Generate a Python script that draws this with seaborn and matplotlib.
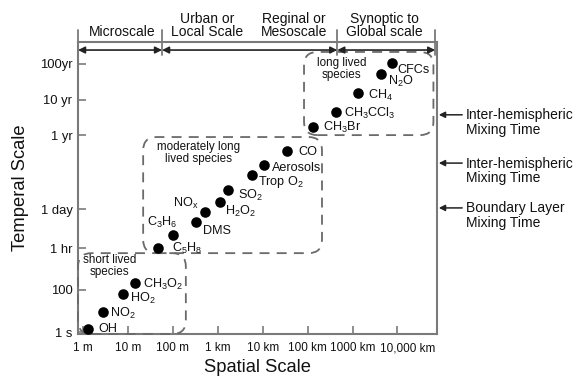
import numpy as np
import pandas as pd
import matplotlib
matplotlib.use("Agg")
import matplotlib.pyplot as plt
import matplotlib.transforms as mtransforms
import seaborn as sns
from matplotlib.patches import FancyBboxPatch

# ---------------- data ----------------
species = ["OH", "NO2", "HO2", "CH3O2", "C5H8", "C3H6", "DMS", "NOx", "H2O2",
           "SO2", "Trop O2", "Aerosols", "CO", "CH3Br", "CH3CCl3", "CH4",
           "N2O", "CFCs"]
species_labels = ["OH", r"NO$_2$", r"HO$_2$", r"CH$_3$O$_2$", r"C$_5$H$_8$",
                  r"C$_3$H$_6$", "DMS", r"NO$_x$", r"H$_2$O$_2$", r"SO$_2$",
                  r"Trop O$_2$", "Aerosols", "CO", r"CH$_3$Br",
                  r"CH$_3$CCl$_3$", r"CH$_4$", r"N$_2$O", "CFCs"]
# spatial scale as log10(metres)
spatial_log10_m = [0.11, 0.45, 0.89, 1.16, 1.67, 2.00, 2.52, 2.72, 3.05,
                   3.23, 3.76, 4.03, 4.54, 5.12, 5.63, 6.13, 6.64, 6.88]
# temporal scale on the chart's schematic axis
temporal_pos = [0.08, 0.52, 0.99, 1.28, 2.19, 2.53, 2.87, 3.13, 3.39,
                3.71, 4.10, 4.36, 4.73, 5.35, 5.75, 6.24, 6.74, 7.03]

x_tick_vals = [0, 1, 2, 3, 4, 5, 6, 7]
x_tick_labels = ["1 m", "10 m", "100 m", "1 km", "10 km", "100 km",
                 "1000 km", "10,000 km"]
y_tick_vals = [0, 1.10, 2.19, 3.21, 5.14, 6.06, 7.0]
y_tick_labels = ["1 s", "100", "1 hr", "1 day", "1 yr", "10 yr", "100yr"]

scale_names = ["Microscale", "Urban or\nLocal Scale", "Reginal or\nMesoscale",
               "Synoptic to\nGlobal scale"]
mixing_labels = ["Inter-hemispheric\nMixing Time",
                 "Inter-hemispheric\nMixing Time",
                 "Boundary Layer\nMixing Time"]
group_names = ["short lived\nspecies", "moderately long\nlived species",
               "long lived\nspecies"]

df = pd.DataFrame({"species": species, "spatial": spatial_log10_m,
                   "temporal": temporal_pos})

# ---------------- layout / style ----------------
sns.set_theme(style="white")
plt.rcParams["font.family"] = ["Liberation Sans", "DejaVu Sans"]
plt.rcParams["mathtext.fontset"] = "custom"
plt.rcParams["mathtext.rm"] = "Liberation Sans"
plt.rcParams["mathtext.it"] = "Liberation Sans:italic"
plt.rcParams["mathtext.bf"] = "Liberation Sans:bold"
plt.rcParams["mathtext.default"] = "regular"

GREY = "#7a7a7a"
DASH = "#6a6a6a"
INK = "#111111"

fig = plt.figure(figsize=(5.77, 3.78), dpi=100)
ax = fig.add_axes([0.1352, 0.1164, 0.6222, 0.7725])

sns.scatterplot(data=df, x="spatial", y="temporal", ax=ax, color="black",
                s=58, edgecolor="black", linewidth=0, zorder=5, legend=False)

XL = (-0.11, 7.88)
YL = (-0.05, 7.57)
ax.set_xlim(*XL)
ax.set_ylim(*YL)

for sp in ["top", "right", "left", "bottom"]:
    ax.spines[sp].set_visible(True)
    ax.spines[sp].set_color(GREY)
    ax.spines[sp].set_linewidth(1.5)

ax.set_xticks(x_tick_vals)
ax.set_xticklabels(x_tick_labels, fontsize=8.5, color=INK)
ax.set_yticks(y_tick_vals)
ax.set_yticklabels(y_tick_labels, fontsize=9.4, color=INK)
ax.tick_params(axis="x", direction="in", length=5.5, width=1.2, color=GREY,
               pad=6, bottom=True)
ax.tick_params(axis="y", direction="in", length=6, width=1.2, color=GREY,
               pad=4, left=True)
# last x label sits a little to the right of its tick
last = ax.get_xticklabels()[-1]
last.set_transform(last.get_transform() +
                   mtransforms.ScaledTranslation(10 / 100, 0,
                                                 fig.dpi_scale_trans))
ax.set_xlabel("Spatial Scale", fontsize=13.2, labelpad=3, color=INK)
ax.set_ylabel("Temperal Scale", fontsize=13.2, labelpad=8, color=INK)

# point labels: offsets in pixels (dx right, dy down), alignment
label_offsets = {
    "OH": (10, 0, "left"), "NO2": (7, 1, "left"), "HO2": (7, 4, "left"),
    "CH3O2": (8, 1, "left"), "C5H8": (14, 0, "left"),
    "C3H6": (-11, -13, "center"), "DMS": (7, 9, "left"),
    "NOx": (-7, -9, "right"), "H2O2": (5, 9, "left"), "SO2": (10, 6, "left"),
    "Trop O2": (6, 7, "left"), "Aerosols": (8, 3, "left"),
    "CO": (11, 1, "left"), "CH3Br": (10, 0, "left"),
    "CH3CCl3": (8, 2, "left"), "CH4": (10, 2, "left"),
    "N2O": (7, 8, "left"), "CFCs": (5, 7, "left"),
}
for name, lab, xv, yv in zip(species, species_labels, spatial_log10_m,
                             temporal_pos):
    dx, dy, ha = label_offsets[name]
    ax.annotate(lab, (xv, yv), xytext=(dx * 0.72, -dy * 0.72),
                textcoords="offset points", ha=ha, va="center",
                fontsize=9.1, color=INK, zorder=6)

# dashed rounded group boxes (x0, x1, y0, y1) in data units
group_boxes = [(-0.11, 2.29, -0.05, 2.06), (1.34, 5.32, 2.06, 5.09),
               (4.92, 7.80, 5.14, 7.31)]
group_label_pos = [(0.60, 1.72), (2.58, 4.67), (5.75, 6.86)]
for (x0, x1, y0, y1), gname, (tx, ty) in zip(group_boxes, group_names,
                                             group_label_pos):
    patch = FancyBboxPatch((x0, y0), x1 - x0, y1 - y0,
                           boxstyle="round,pad=0,rounding_size=0.3",
                           mutation_aspect=1.17, fill=False, edgecolor=DASH,
                           linewidth=1.3, linestyle=(0, (5.5, 4)), zorder=3,
                           clip_on=False)
    ax.add_patch(patch)
    ax.text(tx, ty, gname, ha="center", va="center", fontsize=8.4,
            linespacing=1.0, color=INK, zorder=6)

# scale header: separators, arrows, names
sep_x = [-0.11, 1.76, 5.66, 7.84]
for sx in sep_x:
    ax.plot([sx, sx], [7.23, 7.89], color=GREY, lw=1.3, clip_on=False,
            zorder=4)
arrow_spans = [(sep_x[0], sep_x[1]), (sep_x[1], sep_x[2]),
               (sep_x[2], sep_x[3])]
for a, b in arrow_spans:
    ax.annotate("", xy=(b, 7.36), xytext=(a, 7.36),
                arrowprops=dict(arrowstyle="<|-|>", color="#222222", lw=1.2,
                                mutation_scale=10, shrinkA=0, shrinkB=0),
                annotation_clip=False, zorder=4)
scale_name_x = [0.87, 2.76, 4.70, 6.70]
for nx, nm in zip(scale_name_x, scale_names):
    ax.text(nx, 7.65, nm, ha="center", va="bottom", fontsize=10,
            linespacing=0.92, color=INK, clip_on=False)

# mixing-time arrows on the right
mixing_y = [5.67, 4.41, 3.24]
for my, ml in zip(mixing_y, mixing_labels):
    ax.annotate("", xy=(7.92, my), xytext=(8.44, my),
                arrowprops=dict(arrowstyle="-|>", color="#222222", lw=1.1,
                                mutation_scale=9, shrinkA=0, shrinkB=0),
                annotation_clip=False)
    ax.text(8.52, my + 0.17, ml, ha="left", va="top", fontsize=10,
            linespacing=1.06, color=INK, clip_on=False)

fig.savefig("out.png", dpi=100)
